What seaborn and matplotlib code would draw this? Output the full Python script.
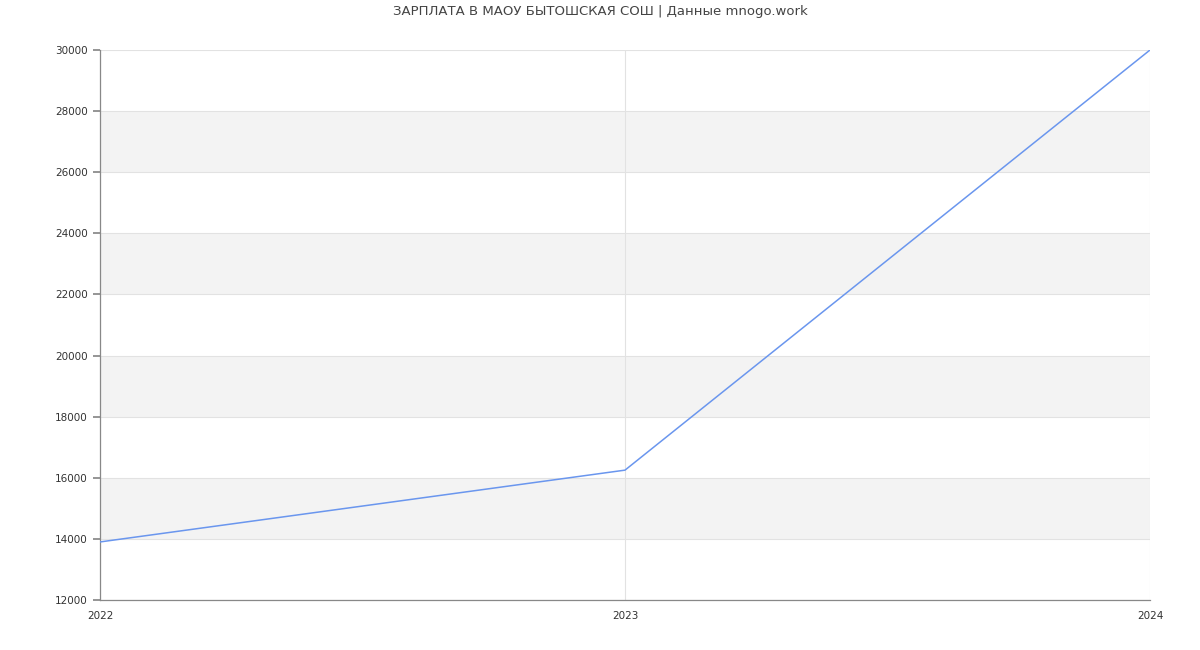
import matplotlib
matplotlib.use("Agg")
import matplotlib.pyplot as plt
import seaborn as sns
import pandas as pd

years = [2022, 2023, 2024]
salary = [13900, 16250, 30000]
yticks = list(range(12000, 30001, 2000))
title = "ЗАРПЛАТА В МАОУ БЫТОШСКАЯ СОШ | Данные mnogo.work"

sns.set_theme(style="white")
plt.rcParams['font.family'] = ['DejaVu Sans']

df = pd.DataFrame({"year": years, "salary": salary})

fig = plt.figure(figsize=(12, 6.5), dpi=100)
ax = fig.add_axes([100/1200, 50/650, 1050/1200, 550/650])

# alternating bands
for i, lo in enumerate(yticks[:-1]):
    if i % 2 == 1:
        ax.axhspan(lo, lo + 2000, color="#f3f3f3", zorder=0, lw=0)

sns.lineplot(data=df, x="year", y="salary", ax=ax, color="#6a96ee", linewidth=1.1, zorder=3)

ax.set_xlim(2022, 2024)
ax.set_ylim(12000, 30000)
ax.set_xticks(years)
ax.set_xticklabels([str(y) for y in years])
ax.set_yticks(yticks)
ax.set_yticklabels([str(t) for t in yticks])
ax.grid(True, color="#e2e2e2", linewidth=0.8, zorder=1)
ax.set_axisbelow(True)
ax.set_xlabel("")
ax.set_ylabel("")

for s in ["top", "right"]:
    ax.spines[s].set_visible(False)
ax.spines["left"].set_color("#888888")
ax.spines["bottom"].set_color("#888888")
ax.spines["left"].set_linewidth(0.9)
ax.spines["bottom"].set_linewidth(0.9)
ax.tick_params(axis="y", length=5, color="#888888", labelsize=7.5, labelcolor="#333333", pad=4, left=True)
ax.tick_params(axis="x", length=0, labelsize=7.5, labelcolor="#333333", pad=8)

fig.suptitle(title, y=0.993, fontsize=9.5, color="#444444", va="top")

fig.savefig("out.png", dpi=100)
